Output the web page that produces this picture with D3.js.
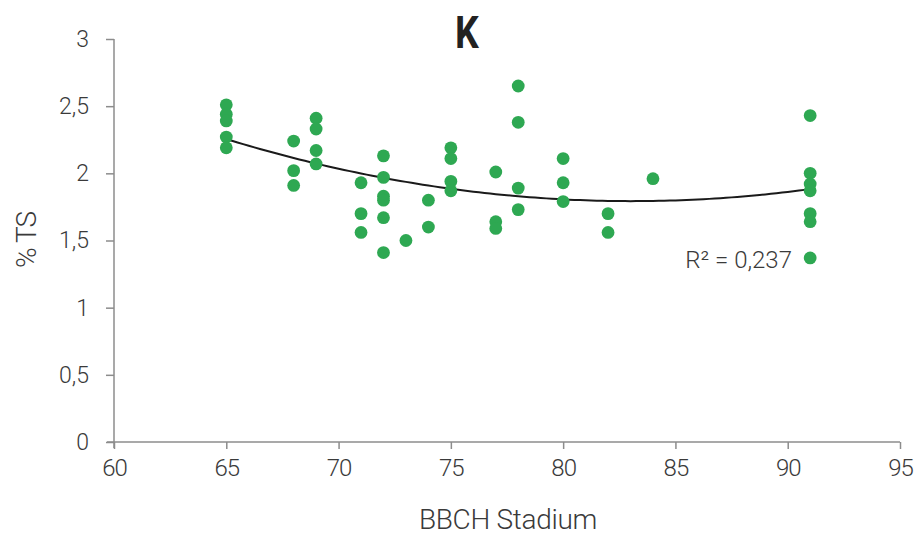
<!DOCTYPE html>
<html>
<head>
<meta charset="utf-8">
<script src="https://cdnjs.cloudflare.com/ajax/libs/d3/7.8.5/d3.min.js"></script>
<style>
  body { margin: 0; background: #fff; }
  text { font-family: Roboto, "Noto Sans", sans-serif; fill: #3a3a3a; }
</style>
</head>
<body>
<div id="chart"></div>
<script>
// chart data  - - - - - - - - - - - - - - - - - - - - - - - - - - - - - -
var bbch = [65, 65, 65, 65, 65,
            68, 68, 68,
            69, 69, 69, 69,
            71, 71, 71,
            72, 72, 72, 72, 72, 72,
            73,
            74, 74,
            75, 75, 75, 75,
            77, 77, 77,
            78, 78, 78, 78,
            80, 80, 80,
            82, 82,
            84,
            91, 91, 91, 91, 91, 91, 91]
var pctTS = [2.51, 2.44, 2.39, 2.27, 2.19,
             2.24, 2.02, 1.91,
             2.41, 2.33, 2.17, 2.07,
             1.93, 1.70, 1.56,
             2.13, 1.97, 1.83, 1.80, 1.67, 1.41,
             1.50,
             1.80, 1.60,
             2.19, 2.11, 1.94, 1.87,
             2.01, 1.64, 1.59,
             2.65, 2.38, 1.89, 1.73,
             2.11, 1.93, 1.79,
             1.70, 1.56,
             1.96,
             2.43, 2.00, 1.92, 1.87, 1.70, 1.64, 1.37]
var xTicks = [60, 65, 70, 75, 80, 85, 90, 95]
var yTicks = [0, 0.5, 1, 1.5, 2, 2.5, 3]
var title = "K"
var xLabel = "BBCH Stadium"
var yLabel = "% TS"
var r2Label = "R² = 0,237"

// canvas  - - - - - - - - - - - - - - - - - - - - - - - - - - - - - - - -
var svgWidth = 919
  , svgHeight = 537
  , margin = {top: 39, right: 19, bottom: 95, left: 114}
  , width = svgWidth - margin.left - margin.right
  , height = svgHeight - margin.top - margin.bottom

var svg = d3.select("#chart").append("svg")
    .attr("width", svgWidth)
    .attr("height", svgHeight)

var g = svg.append("g")
    .attr("transform", "translate(" + margin.left + "," + margin.top + ")")

var x = d3.scaleLinear().domain([60, 95]).range([0, 786])
var y = d3.scaleLinear().domain([0, 3]).range([height, 0])

var comma = function(d) { return String(d).replace(".", ",") }

// axes
var xAxis = g.append("g")
    .attr("transform", "translate(0," + height + ")")
    .call(d3.axisBottom(x).tickValues(xTicks).tickSize(7).tickSizeOuter(7).tickPadding(10))
var yAxis = g.append("g")
    .call(d3.axisLeft(y).tickValues(yTicks).tickSize(8).tickSizeOuter(0).tickFormat(comma).tickPadding(17))

;[xAxis, yAxis].forEach(function(a) {
    a.selectAll("path, line").attr("stroke", "#8c8c8c").attr("stroke-width", 1.5)
    a.selectAll("text").style("font-family", "Roboto").style("fill", "#3a3a3a").style("font-weight", 300)
})
xAxis.selectAll("text").style("font-size", "24px").style("letter-spacing", "-1px")
yAxis.selectAll("text").style("font-size", "23px")
xAxis.select(".domain").attr("d", "M-7,0H" + x(95))
yAxis.select(".domain").attr("d", "M0,0V" + (height + 6))

// quadratic trend line (least squares from the data)
function polyFit2(xs, ys) {
    var n = xs.length, s = [0, 0, 0, 0, 0], t = [0, 0, 0]
    for (var i = 0; i < n; i++) {
        var p = 1
        for (var k = 0; k < 5; k++) { s[k] += p; if (k < 3) t[k] += p * ys[i]; p *= xs[i] }
    }
    var A = [[s[0], s[1], s[2], t[0]], [s[1], s[2], s[3], t[1]], [s[2], s[3], s[4], t[2]]]
    for (var c = 0; c < 3; c++) {
        for (var r = c + 1; r < 3; r++) {
            var f = A[r][c] / A[c][c]
            for (var j = c; j < 4; j++) A[r][j] -= f * A[c][j]
        }
    }
    var b = [0, 0, 0]
    for (var r2 = 2; r2 >= 0; r2--) {
        var v = A[r2][3]
        for (var j2 = r2 + 1; j2 < 3; j2++) v -= A[r2][j2] * b[j2]
        b[r2] = v / A[r2][r2]
    }
    return function(xv) { return b[0] + b[1] * xv + b[2] * xv * xv }
}
var fit = polyFit2(bbch, pctTS)
var lineData = d3.range(65, 91.01, 0.25)

g.append("path")
    .datum(lineData)
    .attr("fill", "none")
    .attr("stroke", "#1a1a1a")
    .attr("stroke-width", 2)
    .attr("d", d3.line().x(function(d) { return x(d) }).y(function(d) { return y(fit(d)) }))

// points
g.append("g").selectAll("circle")
    .data(bbch).enter()
    .append("circle")
    .attr("cx", function(d) { return x(d) })
    .attr("cy", function(d, i) { return y(pctTS[i]) })
    .attr("r", 6.4)
    .attr("fill", "#2ea852")

// texts
svg.append("text")
    .attr("x", 467).attr("y", 48)
    .attr("text-anchor", "middle")
    .style("font-size", "44px").style("font-weight", "bold").style("fill", "#222")
    .attr("transform", "translate(467,0) scale(0.85,1) translate(-467,0)")
    .text(title)

svg.append("text")
    .attr("x", 508).attr("y", 529)
    .attr("text-anchor", "middle")
    .style("font-size", "28px").style("font-weight", 300)
    .style("letter-spacing", "-0.3px")
    .text(xLabel)

svg.append("text")
    .attr("transform", "translate(36,240) rotate(-90)")
    .attr("text-anchor", "middle")
    .style("font-size", "28px").style("font-weight", 300)
    .style("letter-spacing", "-1px")
    .text(yLabel)

svg.append("text")
    .attr("x", 792).attr("y", 268)
    .attr("text-anchor", "end")
    .style("font-size", "24px").style("font-weight", 300)
    .text(r2Label)
</script>
</body>
</html>
